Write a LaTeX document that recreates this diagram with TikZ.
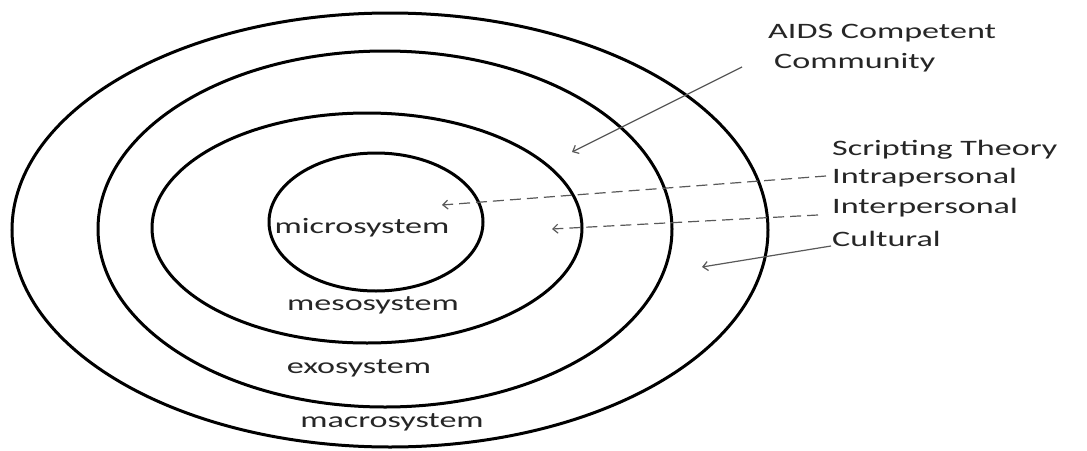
\documentclass[tikz,border=0pt]{standalone}
\usepackage{fontspec}
\usepackage{graphicx}
\setmainfont{Carlito}
\usetikzlibrary{arrows.meta}
\newcommand{\wide}[1]{\scalebox{1.55}[1]{#1}}
\tikzset{
  ring/.style={line width=3pt, black},
  lbl/.style={font=\fontsize{22}{26}\selectfont, inner sep=0pt, text=black!85},
  pointer/.style={draw=black!65, line width=1.2pt, -{Straight Barb[length=5pt,width=9pt]}},
  dpointer/.style={pointer, dash pattern=on 11pt off 6pt}
}
\begin{document}
\begin{tikzpicture}[x=1pt,y=-1pt]
\useasboundingbox (0,0) rectangle (1087,450);
\fill[white] (0,0) rectangle (1087,450);
% rings
\draw[ring] (390,230) ellipse [x radius=378pt, y radius=217pt];
\draw[ring] (385,229) ellipse [x radius=287pt, y radius=178pt];
\draw[ring] (367,228) ellipse [x radius=215pt, y radius=115pt];
\draw[ring] (376,222) ellipse [x radius=107pt, y radius=69pt];
% system labels
\node[lbl] (micro) at (362,228) {\wide{microsystem}};
\node[lbl] (meso) at (373,305) {\wide{mesosystem}};
\node[lbl] (exo) at (359,368) {\wide{exosystem}};
\node[lbl] (macro) at (392,422) {\wide{macrosystem}};
% right labels
\node[lbl, anchor=west] (aids) at (768,33) {\wide{AIDS Competent}};
\node[lbl, anchor=west] (comm) at (774,63) {\wide{Community}};
\node[lbl, anchor=west] (script) at (832,150) {\wide{Scripting Theory}};
\node[lbl, anchor=west] (intra) at (832,178) {\wide{Intrapersonal}};
\node[lbl, anchor=west] (inter) at (832,208) {\wide{Interpersonal}};
\node[lbl, anchor=west] (cult) at (832,239) {\wide{Cultural}};
% arrow ends
\coordinate (aidsS) at (742,67);
\coordinate (aidsE) at (572,152);
\coordinate (intraS) at (826,176);
\coordinate (intraE) at (442,205);
\coordinate (interS) at (818,215);
\coordinate (interE) at (552,229);
\coordinate (cultS) at (831,246);
\coordinate (cultE) at (702,267);
\draw[pointer] (aidsS) -- (aidsE);
\draw[dpointer] (intraS) -- (intraE);
\draw[dpointer] (interS) -- (interE);
\draw[pointer] (cultS) -- (cultE);
\end{tikzpicture}
\end{document}
